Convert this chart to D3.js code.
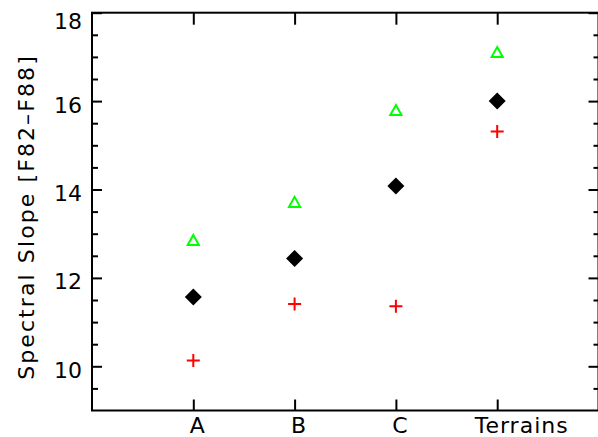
<!DOCTYPE html>
<html>
<head>
<meta charset="utf-8">
<script src="https://cdn.jsdelivr.net/npm/d3@7"></script>
<style>
  html, body { margin: 0; padding: 0; background: #fff; }
  svg { display: block; }
  text { font-family: "DejaVu Sans", sans-serif; font-size: 22px; fill: #000; }
</style>
</head>
<body>
<svg id="chart" width="598" height="437"></svg>
<script>
// ---- data ----
const categories = ["A", "B", "C", "     Terrains"];
const triangleValues = [12.86, 13.72, 15.80, 17.11];   // green open triangles
const diamondValues  = [11.57, 12.44, 14.08, 16.00];   // black filled diamonds
const plusValues     = [10.13, 11.41, 11.36, 15.31];   // red plus signs
const yTickValues = [10, 12, 14, 16, 18];
const yMinorTickValues = [9.5, 10.5, 11, 11.5, 12.5, 13, 13.5, 14.5, 15, 15.5, 16.5, 17, 17.5];
const yLabel = "Spectral Slope [F82\u2013F88]";

// ---- layout ----
const plotLeft = 92, plotRight = 598.5, plotTop = 12.7, plotBottom = 410.5;
const svg = d3.select("#chart");

const x = d3.scaleLinear().domain([0, 5]).range([plotLeft, plotRight]);
const y = d3.scaleLinear().domain([9, 18]).range([plotBottom, plotTop]);
const positions = categories.map((c, i) => i + 1);

// frame
svg.append("rect")
  .attr("x", plotLeft).attr("y", plotTop)
  .attr("width", plotRight - plotLeft).attr("height", plotBottom - plotTop)
  .attr("fill", "none").attr("stroke", "#000").attr("stroke-width", 2);

function styleAxis(g) {
  g.select(".domain").remove();
  g.selectAll(".tick line").attr("stroke", "#000").attr("stroke-width", 2);
  g.selectAll("text").attr("font-family", null).attr("font-size", null);
}

// left axis major
const gl = svg.append("g").attr("transform", `translate(${plotLeft},0)`)
  .call(d3.axisLeft(y).tickValues(yTickValues).tickSize(-10).tickPadding(10).tickFormat(d3.format("d")))
  .call(styleAxis);
gl.selectAll(".tick text")
  .attr("dy", null)
  .attr("y", d => Math.max(11, 28.3 - y(d)));
// left minor
svg.append("g").attr("transform", `translate(${plotLeft},0)`)
  .call(d3.axisLeft(y).tickValues(yMinorTickValues).tickSize(-6).tickFormat(""))
  .call(styleAxis);

// right axis
svg.append("g").attr("transform", `translate(${plotRight},0)`)
  .call(d3.axisRight(y).tickValues(yTickValues).tickSize(-10).tickFormat(""))
  .call(styleAxis);
svg.append("g").attr("transform", `translate(${plotRight},0)`)
  .call(d3.axisRight(y).tickValues(yMinorTickValues).tickSize(-5).tickFormat(""))
  .call(styleAxis);

// bottom axis
const gb = svg.append("g").attr("transform", `translate(0,${plotBottom})`)
  .call(d3.axisBottom(x).tickValues(positions).tickSize(-11).tickPadding(7)
    .tickFormat(d => categories[d - 1]))
  .call(styleAxis);
gb.selectAll(".tick text")
  .attr("dx", 4)
  .style("white-space", "pre")
  .attr("xml:space", "preserve")
  .style("letter-spacing", "1px");

// top axis
svg.append("g").attr("transform", `translate(0,${plotTop})`)
  .call(d3.axisTop(x).tickValues(positions).tickSize(-12).tickFormat(""))
  .call(styleAxis);

// y label
svg.append("text")
  .attr("transform", `translate(34,217) rotate(-90)`)
  .attr("text-anchor", "middle")
  .style("letter-spacing", "2.1px")
  .text(yLabel);

// ---- marks ----
const tri = "M0,-5 L5.6,5 L-5.6,5 Z";
svg.append("g").selectAll("path").data(triangleValues).join("path")
  .attr("d", tri)
  .attr("transform", (d, i) => `translate(${x(positions[i])},${y(d)})`)
  .attr("fill", "none").attr("stroke", "#00ff00").attr("stroke-width", 2)
  .attr("stroke-linejoin", "miter");

svg.append("g").selectAll("path").data(diamondValues).join("path")
  .attr("d", "M0,-8.5 L8.5,0 L0,8.5 L-8.5,0 Z")
  .attr("transform", (d, i) => `translate(${x(positions[i])},${y(d)})`)
  .attr("fill", "#000");

svg.append("g").selectAll("path").data(plusValues).join("path")
  .attr("d", "M-6.5,0 H6.5 M0,-6.5 V6.5")
  .attr("transform", (d, i) => `translate(${x(positions[i])},${y(d)})`)
  .attr("fill", "none").attr("stroke", "#ff0000").attr("stroke-width", 2);
</script>
</body>
</html>
